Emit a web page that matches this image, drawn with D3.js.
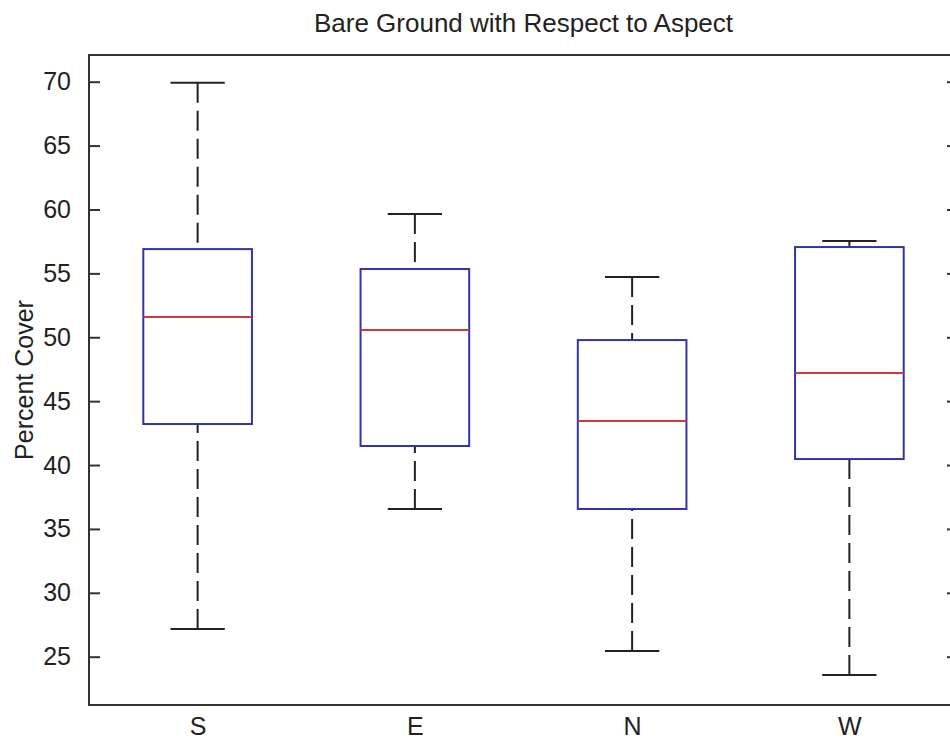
<!DOCTYPE html>
<html>
<head>
<meta charset="utf-8">
<script src="https://cdn.jsdelivr.net/npm/d3@7"></script>
<style>
  html, body { margin: 0; padding: 0; background: #fff; }
  text { font-family: "Liberation Sans", Arial, sans-serif; fill: #222; }
</style>
</head>
<body>
<svg id="chart" width="950" height="740"></svg>
<script>
// ---- data ----
const categories = ["S", "E", "N", "W"];
const whiskerLow  = [27.17, 36.56, 25.45, 23.57];
const q1          = [43.21, 41.49, 36.56, 40.47];
const median      = [51.58, 50.56, 43.44, 47.20];
const q3          = [56.90, 55.34, 49.78, 57.06];
const whiskerHigh = [69.92, 59.64, 54.71, 57.53];
const yTicks = [25, 30, 35, 40, 45, 50, 55, 60, 65, 70];
const titleText = "Bare Ground with Respect to Aspect";
const yLabelText = "Percent Cover";

// ---- layout ----
const plotLeft = 89, plotRight = 958, plotTop = 55, plotBottom = 705;
const svg = d3.select("#chart");

const x = d3.scaleLinear().domain([0.5, categories.length + 0.5]).range([plotLeft, plotRight]);
const y = d3.scaleLinear().domain([21.22, 72.09]).range([plotBottom, plotTop]);

const axisColor = "#333";

// axes frame
svg.append("rect")
  .attr("x", plotLeft).attr("y", plotTop)
  .attr("width", plotRight - plotLeft).attr("height", plotBottom - plotTop)
  .attr("fill", "none").attr("stroke", axisColor).attr("stroke-width", 2);

// left axis ticks + labels
const yAxis = d3.axisLeft(y).tickValues(yTicks).tickSizeInner(-11).tickSizeOuter(0).tickPadding(18);
const gy = svg.append("g").attr("transform", `translate(${plotLeft},0)`).call(yAxis);
gy.select(".domain").remove();
gy.selectAll(".tick line").attr("stroke", axisColor).attr("stroke-width", 2);
gy.selectAll(".tick text")
  .style("font-family", '"Liberation Sans", Arial, sans-serif')
  .style("font-size", "25px").attr("fill", "#222").attr("dy", "0.32em");

// right axis ticks (inward)
const yAxisR = d3.axisRight(y).tickValues(yTicks).tickSizeInner(-11).tickSizeOuter(0).tickFormat("");
const gyr = svg.append("g").attr("transform", `translate(${plotRight},0)`).call(yAxisR);
gyr.select(".domain").remove();
gyr.selectAll(".tick line").attr("stroke", axisColor).attr("stroke-width", 2);

// x labels
const xAxis = d3.axisBottom(x).tickValues(categories.map((d, i) => i + 1))
  .tickFormat((d, i) => categories[i]).tickSize(0).tickPadding(12);
const gx = svg.append("g").attr("transform", `translate(0,${plotBottom})`).call(xAxis);
gx.select(".domain").remove();
gx.selectAll(".tick text")
  .style("font-family", '"Liberation Sans", Arial, sans-serif')
  .style("font-size", "25px").attr("fill", "#222");

// boxes
const boxHalf = 0.25, capHalf = 0.125;
const g = svg.append("g");
categories.forEach((c, i) => {
  const cx = i + 1;
  // whiskers (dashed)
  [[q3[i], whiskerHigh[i]], [q1[i], whiskerLow[i]]].forEach(([a, b]) => {
    g.append("line")
      .attr("x1", x(cx)).attr("x2", x(cx))
      .attr("y1", y(b)).attr("y2", y(a))
      .attr("stroke", "#222").attr("stroke-width", 2)
      .attr("stroke-dasharray", "20,8");
  });
  // caps
  [whiskerHigh[i], whiskerLow[i]].forEach(v => {
    g.append("line")
      .attr("x1", x(cx - capHalf)).attr("x2", x(cx + capHalf))
      .attr("y1", y(v)).attr("y2", y(v))
      .attr("stroke", "#222").attr("stroke-width", 2);
  });
  // box
  g.append("rect")
    .attr("x", x(cx - boxHalf)).attr("y", y(q3[i]))
    .attr("width", x(cx + boxHalf) - x(cx - boxHalf))
    .attr("height", y(q1[i]) - y(q3[i]))
    .attr("fill", "none").attr("stroke", "#3434a8").attr("stroke-width", 2);
  // median
  g.append("line")
    .attr("x1", x(cx - boxHalf)).attr("x2", x(cx + boxHalf))
    .attr("y1", y(median[i])).attr("y2", y(median[i]))
    .attr("stroke", "#d03a3a").attr("stroke-width", 2);
});

// title
svg.append("text")
  .attr("x", (plotLeft + plotRight) / 2).attr("y", 32)
  .attr("text-anchor", "middle")
  .style("font-size", "26px")
  .text(titleText);

// y label
svg.append("text")
  .attr("transform", `translate(33,${(plotTop + plotBottom) / 2}) rotate(-90)`)
  .attr("text-anchor", "middle")
  .style("font-size", "25px")
  .text(yLabelText);
</script>
</body>
</html>
